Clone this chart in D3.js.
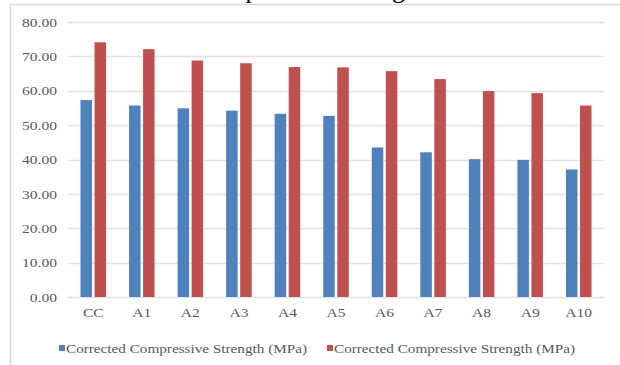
<!DOCTYPE html>
<html>
<head>
<meta charset="utf-8">
<script src="https://cdn.jsdelivr.net/npm/d3@7"></script>
<style>
  body { margin: 0; background: #fff; }
  svg { display: block; }
  text { font-family: "Liberation Serif", "Times New Roman", serif; }
</style>
</head>
<body>
<script>
// data
const categories = ["CC", "A1", "A2", "A3", "A4", "A5", "A6", "A7", "A8", "A9", "A10"];
const seriesNames = ["Corrected Compressive Strength (MPa)", "Corrected Compressive Strength (MPa)"];
const seriesA = [57.3, 55.7, 54.9, 54.2, 53.3, 52.7, 43.5, 42.1, 40.1, 39.9, 37.1];
const seriesB = [74.1, 72.1, 68.8, 68.0, 66.9, 66.8, 65.7, 63.4, 59.9, 59.3, 55.7];
const yTicks = [0, 10, 20, 30, 40, 50, 60, 70, 80];
const titleText = "Compressive Strength";

const colors = ["#4F81BD", "#C0504D"];

const svgWidth = 620;
const svgHeight = 365;

// plot area
const plot = {left: 69, right: 603, top: 22, bottom: 297};
const stretch = 1.2; // text in the picture is a bit wide

window.onload = main;

function main() {
    const svg = d3.select("body").append("svg")
        .attr("width", svgWidth)
        .attr("height", svgHeight);

    // frame of the chart
    svg.append("rect")
        .attr("x", 10.5).attr("y", 4.5)
        .attr("width", 630).attr("height", 380)
        .attr("fill", "none")
        .attr("stroke", "#D9D9D9")
        .attr("stroke-width", 1.5);

    // title, mostly cut off at the top edge
    svg.append("text")
        .attr("x", 310).attr("y", -2.5)
        .attr("text-anchor", "middle")
        .style("font-size", "26px")
        .attr("fill", "#000")
        .text(titleText);

    const y = d3.scaleLinear().domain([0, 80]).range([plot.bottom, plot.top]);

    const x0 = d3.scaleBand()
        .domain(categories)
        .range([plot.left, plot.right])
        .paddingInner(0.474)
        .paddingOuter(0.237);

    const x1 = d3.scaleBand()
        .domain([0, 1])
        .range([0, x0.bandwidth()])
        .paddingInner(0.18);

    // gridlines
    svg.append("g")
        .selectAll("line")
        .data(yTicks)
        .join("line")
        .attr("x1", plot.left - 1)
        .attr("x2", plot.right + 1)
        .attr("y1", d => Math.round(y(d)) + 0.5)
        .attr("y2", d => Math.round(y(d)) + 0.5)
        .attr("stroke", "#E3E3E3")
        .attr("stroke-width", 1.3);

    // y axis labels
    const yAxis = svg.append("g")
        .attr("transform", `translate(${plot.left},0)`)
        .call(d3.axisLeft(y).tickValues(yTicks).tickFormat(d3.format(".2f")).tickSize(0).tickPadding(12));
    yAxis.select(".domain").remove();
    yAxis.selectAll("text")
        .attr("fill", "#595959")
        .style("font-size", "13px")
        .attr("transform", `scale(${stretch},1)`)
        .attr("x", -12 / stretch);

    // x axis labels
    const xAxis = svg.append("g")
        .attr("transform", `translate(0,${plot.bottom})`)
        .call(d3.axisBottom(x0).tickSize(0).tickPadding(11));
    xAxis.select(".domain").remove();
    xAxis.selectAll("text")
        .attr("fill", "#595959")
        .style("font-size", "13px")
        .attr("transform", `scale(${stretch},1)`);

    // bars
    const rows = categories.map((c, i) => ({cat: c, vals: [seriesA[i], seriesB[i]]}));
    svg.append("g")
        .selectAll("g")
        .data(rows)
        .join("g")
        .attr("transform", d => `translate(${x0(d.cat)},0)`)
        .selectAll("rect")
        .data(d => d.vals.map((v, k) => ({k, v})))
        .join("rect")
        .attr("x", d => x1(d.k))
        .attr("y", d => y(d.v))
        .attr("width", x1.bandwidth())
        .attr("height", d => y(0) - y(d.v))
        .attr("fill", d => colors[d.k]);

    // legend
    const legendX = [59, 327];
    const legend = svg.append("g")
        .selectAll("g")
        .data(seriesNames)
        .join("g")
        .attr("transform", (d, i) => `translate(${legendX[i]},348)`);
    legend.append("rect")
        .attr("x", 0).attr("y", -3)
        .attr("width", 6).attr("height", 6)
        .attr("fill", (d, i) => colors[i]);
    legend.append("text")
        .attr("x", 7)
        .attr("dy", "0.35em")
        .attr("fill", "#595959")
        .style("font-size", "13px")
        .attr("textLength", 241)
        .attr("lengthAdjust", "spacingAndGlyphs")
        .text(d => d);
}
</script>
</body>
</html>
